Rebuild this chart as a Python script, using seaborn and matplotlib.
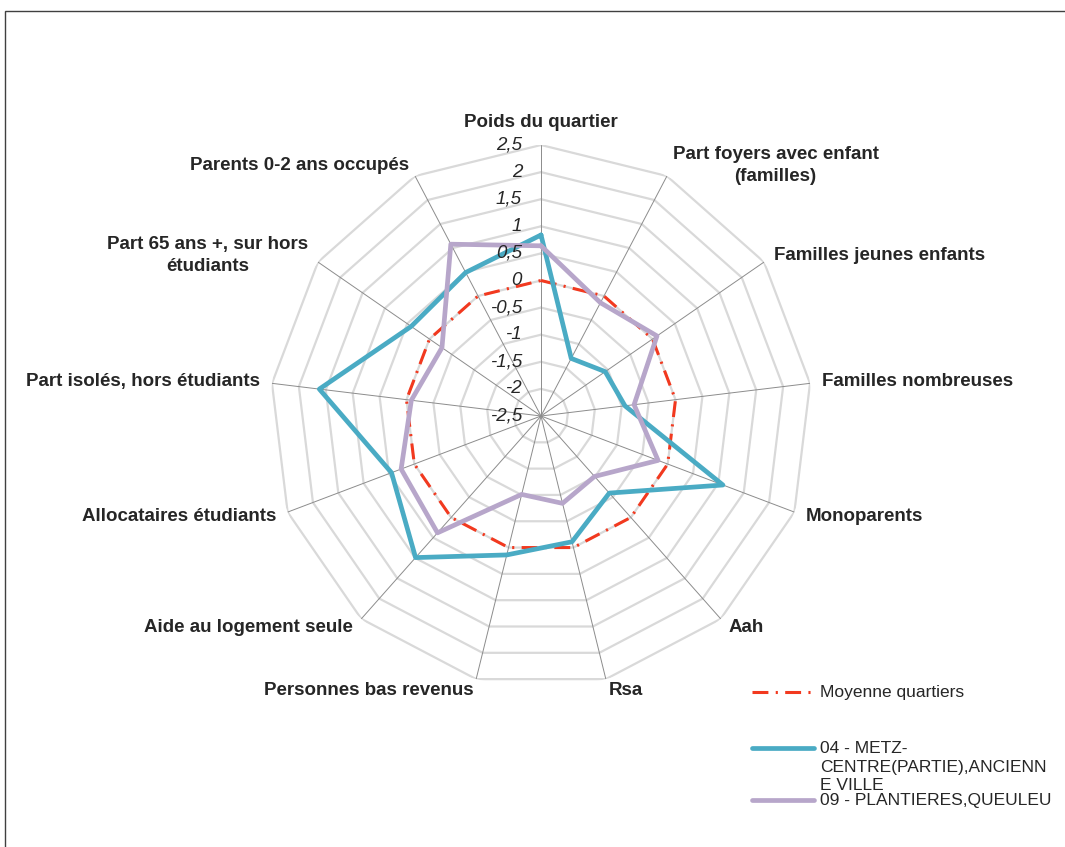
import numpy as np
import pandas as pd
import matplotlib.pyplot as plt
import seaborn as sns
from matplotlib.lines import Line2D
from matplotlib.patches import Rectangle

# axes of the radar, clockwise from the top
categories = [
    "Poids du quartier",
    "Part foyers avec enfant\n(familles)",
    "Familles jeunes enfants",
    "Familles nombreuses",
    "Monoparents",
    "Aah",
    "Rsa",
    "Personnes bas revenus",
    "Aide au logement seule",
    "Allocataires étudiants",
    "Part isolés, hors étudiants",
    "Part 65 ans +, sur hors\nétudiants",
    "Parents 0-2 ans occupés",
]

series_names = [
    "Moyenne quartiers",
    "04 - METZ-\nCENTRE(PARTIE),ANCIENN\nE VILLE",
    "09 - PLANTIERES,QUEULEU",
]
moyenne = [0, 0, 0, 0, 0, 0, 0, 0, 0, 0, 0, 0, 0]
metz_centre = [0.84, -1.3, -1.06, -0.94, 1.09, -0.6, -0.11, 0.14, 0.99, 0.45, 1.62, 0.41, 0.49]
plantieres = [0.64, -0.14, 0.1, -0.77, -0.19, -1.01, -0.84, -1.01, 0.38, 0.26, -0.09, -0.28, 1.08]

tick_values = [-2.5, -2, -1.5, -1, -0.5, 0, 0.5, 1, 1.5, 2, 2.5]
tick_labels = ["-2,5", "-2", "-1,5", "-1", "-0,5", "0", "0,5", "1", "1,5", "2", "2,5"]

colors = ["#f2391f", "#4aabc4", "#b7a6ca"]
widths = [2.2, 3.4, 3.4]

sns.set_theme(style="white")
plt.rcParams["font.family"] = ["Liberation Sans", "DejaVu Sans"]
TXT = "#262626"

W, H = 1065, 847
fig = plt.figure(figsize=(W / 100, H / 100), dpi=100)
fig.patch.set_facecolor("white")

# outer frame of the exported chart
fig.add_artist(Rectangle((5 / W, -0.2), 1.2, 1.2 - 11 / H, transform=fig.transFigure,
                         fill=False, edgecolor="#404040", lw=1.0))

cx, cy, R = 541, 416, 271
ax = fig.add_axes([(cx - R) / W, 1 - (cy + R) / H, 2 * R / W, 2 * R / H], projection="polar")
ax.set_theta_zero_location("N")
ax.set_theta_direction(-1)
ax.set_ylim(tick_values[0], tick_values[-1])
ax.grid(False)
ax.set_xticks([])
ax.set_yticks([])
ax.spines["polar"].set_visible(False)
ax.set_facecolor("none")

n = len(categories)
angles = np.linspace(0, 2 * np.pi, n, endpoint=False)
closed = np.append(angles, angles[0])

# polygon grid rings
for v in tick_values[1:]:
    ax.plot(closed, [v] * (n + 1), color="#d9d9d9", lw=1.6, zorder=1)
# spokes
for a in angles:
    ax.plot([a, a], [tick_values[0], tick_values[-1]], color="#8c8c8c", lw=0.7, zorder=2)

# series
all_vals = [moyenne, metz_centre, plantieres]
styles = [(0, (5.2, 2.4, 0.7, 2.4)), "-", "-"]
for name, vals, col, lw, ls in zip(series_names, all_vals, colors, widths, styles):
    df = pd.DataFrame({"angle": closed, "value": list(vals) + [vals[0]]})
    sns.lineplot(data=df, x="angle", y="value", ax=ax, sort=False, estimator=None,
                 color=col, lw=lw, linestyle=ls, zorder=3, legend=False)
ax.set_xlabel("")
ax.set_ylabel("")

# radial tick labels
for v, lab in zip(tick_values, tick_labels):
    ax.annotate(lab, xy=(0, v), xytext=(-19, 0), textcoords="offset pixels",
                ha="right", va="center", fontsize=13.5, style="italic", color=TXT, zorder=5)

# category labels
for a, lab in zip(angles, categories):
    s, c = np.sin(a), np.cos(a)
    ha = "left" if s > 0.05 else ("right" if s < -0.05 else "center")
    if c > 0.95:
        va, d = "bottom", 14
    else:
        va, d = "center", 12
    ax.annotate(lab, xy=(a, tick_values[-1]), xytext=(d * s, d * c), textcoords="offset pixels",
                ha=ha, va=va, multialignment="center", fontsize=13.5, fontweight="bold",
                color=TXT, annotation_clip=False, linespacing=1.4)

# legend (drawn like the Excel one: key on the first text line)
legend_y = [692, 748, 800]
for name, col, lw, ls, y in zip(series_names, colors, widths, styles, legend_y):
    fig.add_artist(Line2D([752 / W, 814 / W], [1 - y / H, 1 - y / H], transform=fig.transFigure,
                          color=col, lw=lw, linestyle=ls, solid_capstyle="round"))
    fig.text(820 / W, 1 - (y - 7) / H, name, ha="left", va="top", fontsize=12.5,
             color=TXT, linespacing=1.3)

fig.savefig("out.png", dpi=100, facecolor="white")
